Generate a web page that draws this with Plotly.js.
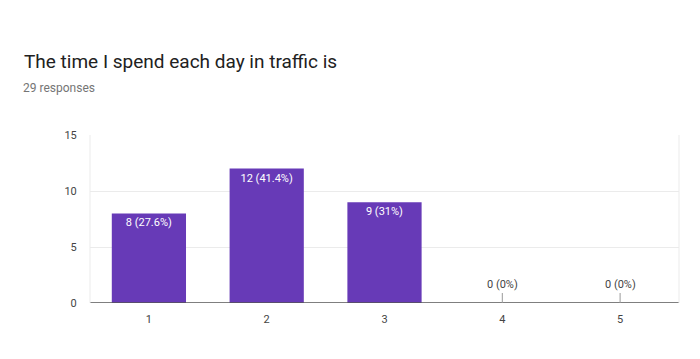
<!DOCTYPE html>
<html><head><meta charset="utf-8">
<script src="https://cdn.plot.ly/plotly-3.0.1.min.js"></script>
<style>body{margin:0;background:#fff}#chart{width:700px;height:359px}</style>
</head><body><div id="chart"></div>
<script>
const categories = ['1', '2', '3', '4', '5'];
const counts = [8, 12, 9, 0, 0];
const labels = ['8 (27.6%)', '12 (41.4%)', '9 (31%)', '0 (0%)', '0 (0%)'];
const yTicks = [0, 5, 10, 15];

const font = 'Roboto, Arial, sans-serif';
const annotations = [
  {xref: 'paper', yref: 'paper', x: -69 / 589, y: (303 - 88) / 168, xanchor: 'left', yanchor: 'middle',
   text: '29 responses', showarrow: false, font: {family: font, size: 12, color: '#757575'}}
];
categories.forEach((c, i) => {
  if (counts[i] === 0) {
    annotations.push({x: i, y: counts[i], xref: 'x', yref: 'y', text: labels[i],
      showarrow: true, arrowhead: 0, arrowwidth: 1, arrowcolor: '#999', ax: 0, ay: -10,
      yanchor: 'bottom', standoff: 0,
      font: {family: font, size: 11, color: '#444'}});
  }
});

const trace = {
  type: 'bar', x: categories, y: counts,
  text: labels.map((t, i) => counts[i] > 0 ? t : ''),
  textposition: 'inside', insidetextanchor: 'end', textangle: 0,
  insidetextfont: {family: font, size: 11, color: '#ffffff'},
  marker: {color: '#673ab7'}, width: 0.63, hoverinfo: 'none'
};

Plotly.newPlot('chart', [trace], {
  width: 700, height: 359,
  margin: {l: 90, r: 21, t: 135, b: 56},
  paper_bgcolor: '#fff', plot_bgcolor: '#fff',
  title: {text: 'The time I spend each day in traffic is', x: 24 / 700, xanchor: 'left',
          y: 1 - 61 / 359, yanchor: 'middle',
          font: {family: font, size: 19, color: '#212121'}},
  xaxis: {type: 'category', range: [-0.5, 4.5], showgrid: false,
          ticks: 'outside', ticklen: 6, tickcolor: 'rgba(0,0,0,0)',
          tickfont: {family: font, size: 11, color: '#444'}, showline: false, zeroline: false},
  yaxis: {range: [0, 15], tickvals: yTicks, showgrid: true, gridcolor: '#ebebeb',
          ticks: 'outside', ticklen: 10, tickcolor: 'rgba(0,0,0,0)',
          tickfont: {family: font, size: 11, color: '#444'}, zeroline: false,
          showline: false},
  shapes: [{type: 'line', xref: 'paper', yref: 'y', x0: 0, x1: 1, y0: 0, y1: 0,
            line: {color: '#555', width: 1.5}},
           {type: 'line', xref: 'paper', yref: 'paper', x0: 0, x1: 0, y0: 0, y1: 1,
            line: {color: '#ebebeb', width: 1}},
           {type: 'line', xref: 'paper', yref: 'paper', x0: 1, x1: 1, y0: 0, y1: 1,
            line: {color: '#ebebeb', width: 1}}],
  annotations: annotations,
  showlegend: false
}, {displayModeBar: false, staticPlot: true});
</script></body></html>
